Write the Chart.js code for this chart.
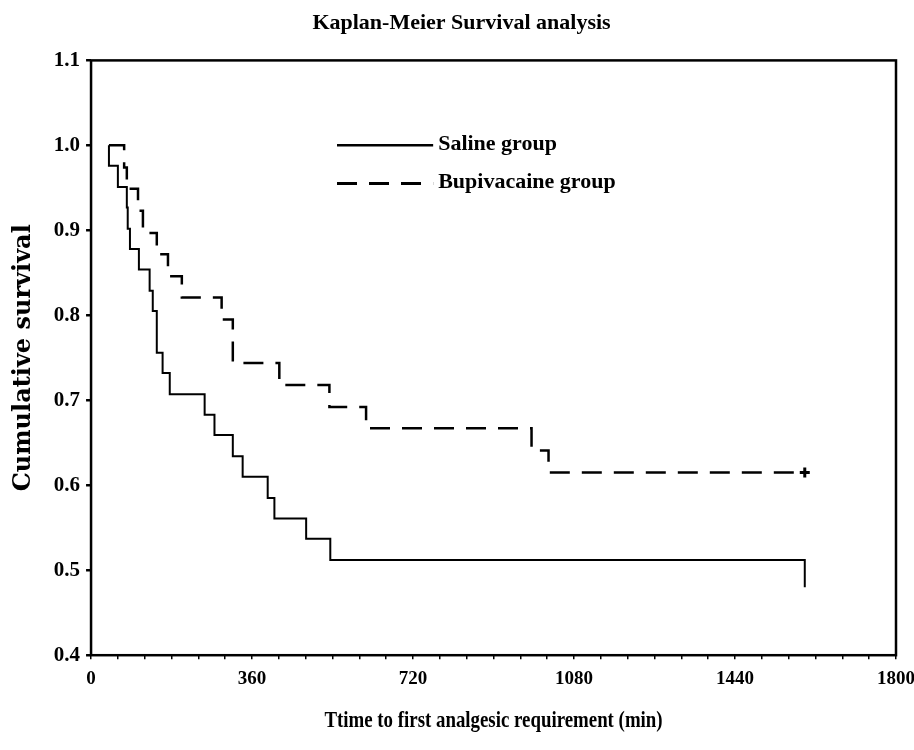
<!DOCTYPE html>
<html>
<head>
<meta charset="utf-8">
<script src="https://cdn.jsdelivr.net/npm/chart.js@4/dist/chart.umd.min.js"></script>
<style>
  html, body { margin: 0; padding: 0; background: #fff; }
  #wrap { width: 914px; height: 750px; position: relative; }
</style>
</head>
<body>
<div id="wrap"><canvas id="km-chart"></canvas></div>
<script>
// Kaplan-Meier steps (time in min, survival after each event)
const salineTimes = [40, 40, 60, 80, 82, 87, 107, 131, 138, 147, 160, 176, 254, 276, 317, 339, 395, 410, 481, 535, 1596, 1596];
const salineSurvival = [1.0, 0.976, 0.951, 0.927, 0.902, 0.878, 0.854, 0.829, 0.805, 0.756, 0.732, 0.707, 0.683, 0.659, 0.634, 0.610, 0.585, 0.561, 0.537, 0.512, 0.512, 0.48];

const bupiTimes = [40, 74, 80, 105, 116, 147, 172, 203, 292, 317, 421, 533, 615, 985, 1023, 1596];
const bupiSurvival = [1.0, 0.974, 0.949, 0.923, 0.897, 0.872, 0.846, 0.821, 0.795, 0.744, 0.718, 0.692, 0.667, 0.641, 0.615, 0.615];

const xTickLabels = [0, 360, 720, 1080, 1440, 1800];
const yTickLabels = ['0.4', '0.5', '0.6', '0.7', '0.8', '0.9', '1.0', '1.1'];
const seriesNames = ['Saline group', 'Bupivacaine group'];
const xAxisTitle = 'Ttime to first analgesic requirement (min)';

const serif = "'Liberation Serif', 'DejaVu Serif', serif";

function toPoints(xs, ys) {
    return xs.map((x, i) => ({ x: x, y: ys[i] }));
}

// box around the plot, legend inside the plot, narrow x title
const framePlugin = {
    id: 'frame',
    afterDraw(chart) {
        const { ctx, chartArea } = chart;
        ctx.save();
        ctx.strokeStyle = '#000';
        ctx.lineWidth = 2.5;
        ctx.strokeRect(chartArea.left, chartArea.top, chartArea.right - chartArea.left, chartArea.bottom - chartArea.top);

        // legend
        const xs = chart.scales.x;
        const ys = chart.scales.y;
        const x0 = xs.getPixelForValue(550);
        const x1 = xs.getPixelForValue(765);
        const rows = [ys.getPixelForValue(1.0), ys.getPixelForValue(0.955)];
        ctx.font = 'bold 22px ' + serif;
        ctx.fillStyle = '#000';
        ctx.textBaseline = 'middle';
        chart.data.datasets.forEach((ds, i) => {
            ctx.beginPath();
            ctx.lineWidth = ds.borderWidth + 0.5;
            ctx.setLineDash(ds.borderDash || []);
            ctx.moveTo(x0, rows[i]);
            ctx.lineTo(x1, rows[i]);
            ctx.stroke();
            ctx.setLineDash([]);
            ctx.fillText(seriesNames[i], x1 + 5, rows[i] - 1);
        });

        // x axis title, condensed like the scan
        ctx.translate((chartArea.left + chartArea.right) / 2, chartArea.bottom + 66);
        ctx.scale(0.82, 1);
        ctx.textAlign = 'center';
        ctx.font = 'bold 23px ' + serif;
        ctx.fillText(xAxisTitle, 0, 0);
        ctx.restore();
    }
};

new Chart(document.getElementById('km-chart'), {
    type: 'line',
    data: {
        datasets: [{
            label: seriesNames[0],
            data: toPoints(salineTimes, salineSurvival),
            stepped: 'before',
            borderColor: '#000',
            borderWidth: 2,
            pointRadius: 0,
            fill: false
        }, {
            label: seriesNames[1],
            data: toPoints(bupiTimes, bupiSurvival),
            stepped: 'before',
            borderColor: '#000',
            borderWidth: 2.5,
            borderDash: [20, 12],
            pointRadius: bupiTimes.map((_, i) => i === bupiTimes.length - 1 ? 5 : 0),
            pointStyle: 'cross',
            pointBorderWidth: 3,
            pointBorderColor: '#000',
            fill: false
        }]
    },
    options: {
        responsive: true,
        maintainAspectRatio: false,
        animation: false,
        layout: { padding: { top: 4, right: 0, bottom: 52, left: 9 } },
        plugins: {
            legend: { display: false },
            tooltip: { enabled: false },
            title: {
                display: true,
                text: 'Kaplan-Meier Survival analysis',
                color: '#000',
                font: { family: serif, size: 22, weight: 'bold' },
                padding: { top: 6, bottom: 24 }
            }
        },
        scales: {
            x: {
                type: 'linear',
                min: 0,
                max: 1800,
                grid: { drawOnChartArea: false, drawTicks: true, tickLength: 4, color: '#000', lineWidth: 1.5 },
                border: { display: false },
                afterFit: function(scale) {
                    // let "1800" hang close to the page edge as in the scan
                    scale.paddingRight = 18;
                },
                ticks: {
                    stepSize: 60,
                    autoSkip: false,
                    maxRotation: 0,
                    color: '#000',
                    padding: 8,
                    font: { family: serif, size: 19, weight: 'bold' },
                    callback: function(value) {
                        return xTickLabels.includes(value) ? String(value) : '';
                    }
                },
                title: { display: false }
            },
            y: {
                type: 'linear',
                min: 0.4,
                max: 1.1,
                grid: { drawOnChartArea: false, drawTicks: true, tickLength: 5, color: '#000', lineWidth: 2.5 },
                border: { display: false },
                ticks: {
                    stepSize: 0.1,
                    color: '#000',
                    padding: 6,
                    font: { family: serif, size: 21, weight: 'bold' },
                    callback: function(value, index) {
                        return yTickLabels[index];
                    }
                },
                title: {
                    display: true,
                    text: 'Cumulative survival',
                    color: '#000',
                    font: { family: "'DejaVu Serif', serif", size: 24, weight: 'bold' },
                    padding: { top: 0, bottom: 10 }
                }
            }
        }
    },
    plugins: [framePlugin]
});
</script>
</body>
</html>
